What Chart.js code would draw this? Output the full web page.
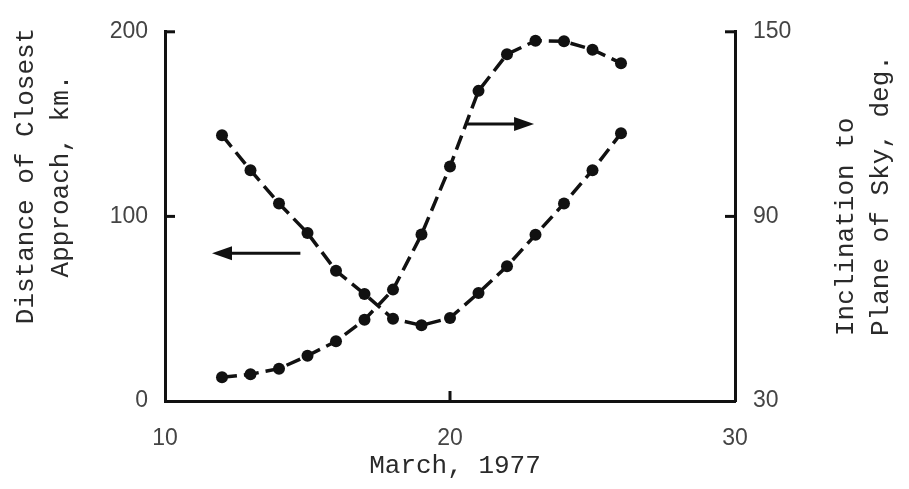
<!DOCTYPE html>
<html>
<head>
<meta charset="utf-8">
<script src="https://cdn.jsdelivr.net/npm/chart.js@4"></script>
<style>
  html, body { margin: 0; padding: 0; background: #fff; }
  #wrap { width: 909px; height: 489px; }
</style>
</head>
<body>
<div id="wrap"><canvas id="chart" width="909" height="489"></canvas></div>
<script>
// days of March 1977
const days = [12, 13, 14, 15, 16, 17, 18, 19, 20, 21, 22, 23, 24, 25, 26];
// distance of closest approach, km (left axis)
const distance = [144, 125, 107, 91, 70.5, 58, 44.5, 41, 45, 58.5, 73, 90, 107, 125, 145];
// inclination to plane of sky, deg (right axis)
const inclination = [37.7, 38.7, 40.5, 44.7, 49.4, 56.4, 66.2, 84.1, 106.2, 130.8, 142.7, 147.1, 146.9, 144.2, 139.8];

const xTicks = [10, 20, 30];
const leftTicks = [0, 100, 200];
const rightTicks = [30, 90, 150];

const ink = '#111';
const tickFont = { family: 'Liberation Sans', size: 23 };
const titleFont = '26px "Liberation Mono"';

// arrows pointing to each curve's axis: [x1, y1, x2, y2] in data units of (x, left)
const arrows = [
    [14.75, 80, 11.65, 80],
    [20.6, 150, 22.95, 150]
];

function pts(ys) {
    return days.map((d, i) => ({ x: d, y: ys[i] }));
}

// draws inward tick marks, arrows and the axis titles
const decorations = {
    id: 'decorations',
    afterDraw(chart) {
        const ctx = chart.ctx;
        const x = chart.scales.x, yl = chart.scales.yL, yr = chart.scales.yR;
        ctx.save();
        ctx.strokeStyle = ink;
        ctx.fillStyle = ink;
        ctx.lineWidth = 3;
        ctx.lineCap = 'butt';

        // inward ticks
        const tk = 10;
        leftTicks.slice(1).forEach(v => {
            const py = yl.getPixelForValue(v);
            ctx.beginPath(); ctx.moveTo(x.left, py); ctx.lineTo(x.left + tk, py); ctx.stroke();
        });
        rightTicks.slice(1).forEach(v => {
            const py = yr.getPixelForValue(v);
            ctx.beginPath(); ctx.moveTo(x.right, py); ctx.lineTo(x.right - tk, py); ctx.stroke();
        });
        xTicks.slice(1, -1).forEach(v => {
            const px = x.getPixelForValue(v);
            ctx.beginPath(); ctx.moveTo(px, yl.bottom); ctx.lineTo(px, yl.bottom - tk); ctx.stroke();
        });

        // arrows
        arrows.forEach(a => {
            const x1 = x.getPixelForValue(a[0]), y1 = yl.getPixelForValue(a[1]);
            const x2 = x.getPixelForValue(a[2]), y2 = yl.getPixelForValue(a[3]);
            const dir = Math.sign(x2 - x1);
            ctx.lineWidth = 3;
            ctx.beginPath(); ctx.moveTo(x1, y1); ctx.lineTo(x2 - dir * 14, y2); ctx.stroke();
            ctx.beginPath();
            ctx.moveTo(x2, y2);
            ctx.lineTo(x2 - dir * 20, y2 - 7);
            ctx.lineTo(x2 - dir * 20, y2 + 7);
            ctx.closePath();
            ctx.fill();
        });

        // axis titles
        ctx.fillStyle = '#2a2a2a';
        ctx.font = titleFont;
        ctx.textBaseline = 'middle';

        ctx.save();
        ctx.translate(26, 176);
        ctx.rotate(-Math.PI / 2);
        ctx.textAlign = 'center';
        ctx.fillText('Distance of Closest', 0, 0);
        ctx.fillText('Approach, km.', 0, 35);
        ctx.restore();

        ctx.save();
        ctx.translate(846, 336);
        ctx.rotate(-Math.PI / 2);
        ctx.textAlign = 'left';
        ctx.fillText('Inclination to', 0, 0);
        ctx.fillText('Plane of Sky, deg.', 0, 35);
        ctx.restore();

        ctx.textAlign = 'center';
        ctx.fillText('March, 1977', 455, 466);
        ctx.restore();
    }
};

const lineStyle = {
    borderColor: ink,
    backgroundColor: ink,
    borderWidth: 3.5,
    borderDash: [15, 7],
    pointRadius: 6,
    pointBorderWidth: 0,
    tension: 0,
    fill: false
};

new Chart(document.getElementById('chart'), {
    type: 'line',
    data: {
        datasets: [
            Object.assign({ label: 'Distance of Closest Approach, km.', data: pts(distance), yAxisID: 'yL' }, lineStyle),
            Object.assign({ label: 'Inclination to Plane of Sky, deg.', data: pts(inclination), yAxisID: 'yR' }, lineStyle)
        ]
    },
    options: {
        responsive: false,
        animation: false,
        layout: { padding: { top: 20 } },
        plugins: {
            legend: { display: false },
            tooltip: { enabled: false }
        },
        scales: {
            x: {
                type: 'linear',
                min: 10,
                max: 30,
                afterFit(s) { s.height = 88; },
                afterBuildTicks(s) { s.ticks = xTicks.map(v => ({ value: v })); },
                grid: { display: true, drawOnChartArea: false, drawTicks: false },
                border: { display: true, width: 3, color: ink },
                ticks: { color: '#444', font: tickFont, padding: 24 }
            },
            yL: {
                type: 'linear',
                position: 'left',
                min: 0,
                max: 200,
                afterFit(s) { s.width = 165; },
                afterBuildTicks(s) { s.ticks = leftTicks.map(v => ({ value: v })); },
                grid: { display: true, drawOnChartArea: false, drawTicks: false },
                border: { display: true, width: 3, color: ink },
                ticks: { color: '#444', font: tickFont, padding: 17 }
            },
            yR: {
                type: 'linear',
                position: 'right',
                min: 30,
                max: 150,
                afterFit(s) { s.width = 174; },
                afterBuildTicks(s) { s.ticks = rightTicks.map(v => ({ value: v })); },
                grid: { display: true, drawOnChartArea: false, drawTicks: false },
                border: { display: true, width: 3, color: ink },
                ticks: { color: '#444', font: tickFont, padding: 18 }
            }
        }
    },
    plugins: [decorations]
});
</script>
</body>
</html>
